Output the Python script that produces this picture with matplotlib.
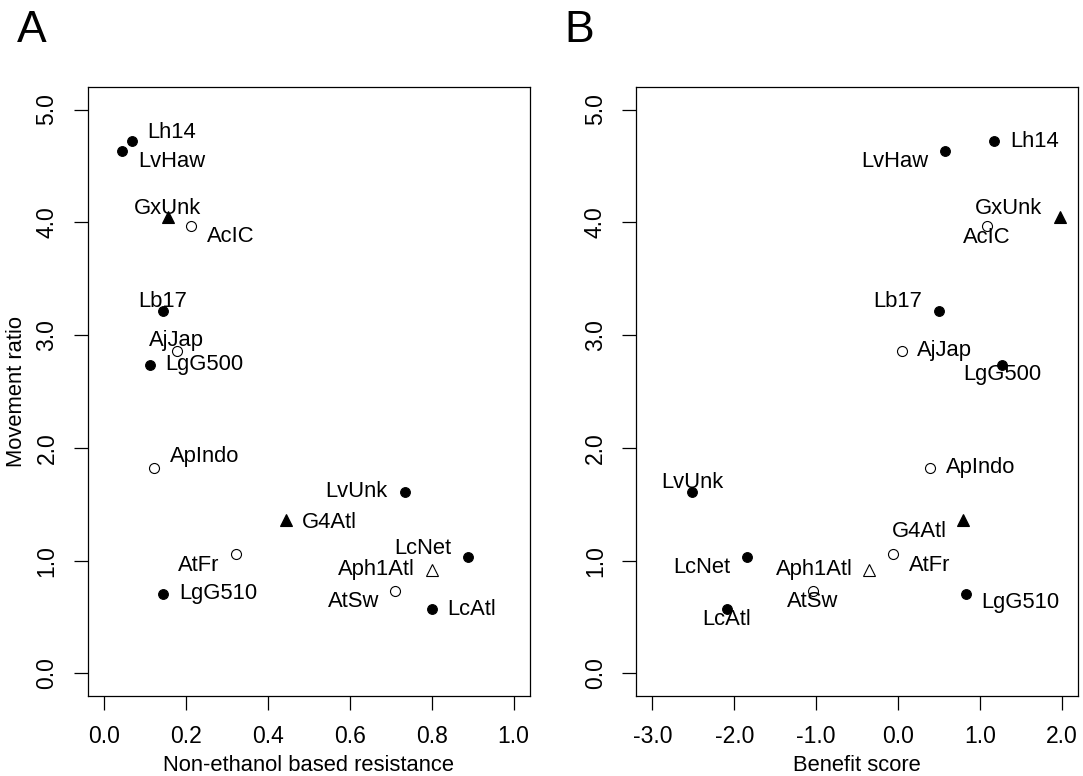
import numpy as np
import matplotlib
matplotlib.use("Agg")
import matplotlib.pyplot as plt

plt.rcParams['font.family'] = ['Liberation Sans', 'DejaVu Sans']

# isolate names
names = ['Lh14', 'LvHaw', 'GxUnk', 'AcIC', 'Lb17', 'AjJap', 'LgG500', 'ApIndo',
         'LvUnk', 'G4Atl', 'AtFr', 'LcNet', 'Aph1Atl', 'LgG510', 'AtSw', 'LcAtl']
# non-ethanol based resistance (panel A x)
resistance = [0.067, 0.044, 0.155, 0.211, 0.144, 0.177, 0.111, 0.123,
              0.734, 0.445, 0.322, 0.889, 0.801, 0.145, 0.711, 0.800]
# benefit score (panel B x)
benefit = [1.176, 0.573, 1.973, 1.086, 0.500, 0.044, 1.269, 0.386,
           -2.512, 0.793, -0.066, -1.845, -0.355, 0.826, -1.039, -2.089]
# movement ratio (y, both panels)
movement = [4.717, 4.635, 4.050, 3.963, 3.217, 2.863, 2.733, 1.822,
            1.611, 1.360, 1.059, 1.032, 0.919, 0.706, 0.733, 0.568]
# symbol group
group = ['fc', 'fc', 'ft', 'oc', 'fc', 'oc', 'fc', 'oc',
         'fc', 'ft', 'oc', 'fc', 'ot', 'fc', 'oc', 'fc']

# marker styles per group
styles = {
    'fc': dict(marker='o', ms=7, mfc='black', mec='black', mew=0.8),
    'oc': dict(marker='o', ms=7.2, mfc='white', mec='black', mew=0.8),
    'ft': dict(marker='^', ms=9, mfc='black', mec='black', mew=0.8),
    'ot': dict(marker='^', ms=9, mfc='white', mec='black', mew=0.8),
}

# label offsets (pixels) for each panel
offA = {'Lh14': (40, 9), 'LvHaw': (50, -11), 'GxUnk': (0, 8), 'AcIC': (40, -10),
        'Lb17': (0, 9), 'AjJap': (0, 10), 'LgG500': (55, 1), 'ApIndo': (50, 11),
        'LvUnk': (-48, 0), 'G4Atl': (43, -2), 'AtFr': (-37, -11), 'LcNet': (-45, 9),
        'Aph1Atl': (-56, 0), 'LgG510': (55, 0), 'AtSw': (-42, -11), 'LcAtl': (40, 0)}
offB = {'Lh14': (40, 0), 'LvHaw': (-50, -11), 'GxUnk': (-51, 8), 'AcIC': (0, -11),
        'Lb17': (-41, 9), 'AjJap': (43, 0), 'LgG500': (0, -9), 'ApIndo': (51, 0),
        'LvUnk': (0, 9), 'G4Atl': (-44, -11), 'AtFr': (37, -11), 'LcNet': (-45, -10),
        'Aph1Atl': (-55, 0), 'LgG510': (55, -9), 'AtSw': (0, -11), 'LcAtl': (0, -10)}

fs = 15.8
tfs = 16.5
fig = plt.figure(figsize=(10.83, 7.76), dpi=100)
axA = fig.add_axes([0.081, 0.1031, 0.4084, 0.7848])
axB = fig.add_axes([0.5873, 0.1031, 0.4084, 0.7848])


def draw_panel(ax, xs, offs, xlim, xticks, xlabel):
    for i in range(len(names)):
        ax.plot(xs[i], movement[i], linestyle='none', **styles[group[i]])
        ax.annotate(names[i], (xs[i], movement[i]), xytext=offs[names[i]],
                    textcoords='offset pixels', ha='center', va='center', fontsize=fs)
    pad = 0.04 * (xlim[1] - xlim[0])
    ax.set_xlim(xlim[0] - pad, xlim[1] + pad)
    ax.set_ylim(-0.2, 5.2)
    ax.set_xticks(xticks)
    ax.set_xticklabels(['%.1f' % t for t in xticks], fontsize=tfs)
    ax.set_yticks(np.arange(0, 6, 1.0))
    ax.set_yticklabels(['%.1f' % t for t in np.arange(0, 6, 1.0)], fontsize=tfs,
                       rotation=90, va='center')
    ax.tick_params(length=10, width=0.9, pad=11)
    ax.tick_params(axis='y', pad=11)
    ax.set_xlabel(xlabel, fontsize=fs, labelpad=5)
    for s in ax.spines.values():
        s.set_linewidth(0.9)


draw_panel(axA, resistance, offA, (0, 1), np.arange(0, 1.01, 0.2),
           'Non-ethanol based resistance')
axA.set_ylabel('Movement ratio', fontsize=fs, labelpad=6)
draw_panel(axB, benefit, offB, (-3, 2), np.arange(-3, 2.01, 1.0), 'Benefit score')

fig.text(32 / 1083, 1 - 42 / 776, 'A', fontsize=32, ha='center', va='baseline')
fig.text(579 / 1083, 1 - 42 / 776, 'B', fontsize=32, ha='center', va='baseline')

fig.savefig('out.png', dpi=100)
